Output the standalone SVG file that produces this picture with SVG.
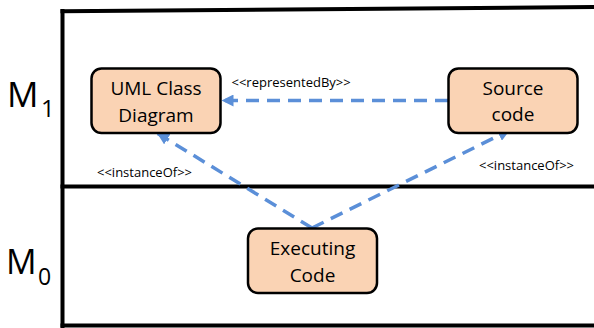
<svg xmlns="http://www.w3.org/2000/svg" width="594" height="328" viewBox="0 0 594 328">
  <style>
    .frame { stroke: #000; stroke-width: 4; fill: none; stroke-linecap: square; }
    .node rect { fill: #FAD3B4; stroke: #000; stroke-width: 2.5; }
    .node text { font-family: "Open Sans", "Noto Sans", sans-serif; font-size: 19px; fill: #000; text-anchor: middle; }
    .link { stroke: #5B8FD8; stroke-width: 3.5; fill: none; stroke-dasharray: 13 8; }
    .label { font-family: "Open Sans", "Noto Sans", sans-serif; font-size: 13px; fill: #000; }
    .level { font-family: "Open Sans", "Noto Sans", sans-serif; fill: #000; }
  </style>
  <defs>
    <marker id="head" viewBox="0 0 12 12" markerWidth="12" markerHeight="12" refX="12" refY="6" orient="auto" markerUnits="userSpaceOnUse">
      <path d="M0,0 L12,6 L0,12 z" fill="#5B8FD8"/>
    </marker>
  </defs>

  <rect width="594" height="328" fill="#fff"/>

  <!-- level frame -->
  <g id="frame">
    <line class="frame" x1="62.5" y1="11.3" x2="596" y2="7"/>
    <line class="frame" x1="62.5" y1="11" x2="62.5" y2="326"/>
    <line class="frame" x1="62.5" y1="186.5" x2="596" y2="186.5"/>
    <line class="frame" x1="62.5" y1="325.5" x2="596" y2="325.5"/>
  </g>

  <!-- level names -->
  <g id="level-m1">
    <text class="level" x="7" y="107" font-size="35">M</text>
    <text class="level" x="41" y="117" font-size="24">1</text>
  </g>
  <g id="level-m0">
    <text class="level" x="6" y="274" font-size="34">M</text>
    <text class="level" x="38" y="285" font-size="23">0</text>
  </g>

  <!-- connectors -->
  <g id="connectors">
    <line class="link" x1="448" y1="100.5" x2="221.5" y2="100.5" marker-end="url(#head)"/>
    <line class="link" x1="312" y1="228" x2="157" y2="133" marker-end="url(#head)"/>
    <line class="link" x1="312" y1="228" x2="510" y2="130" marker-end="url(#head)"/>
    <text class="label" x="231.5" y="87">&lt;&lt;representedBy&gt;&gt;</text>
    <text class="label" x="97" y="176.5">&lt;&lt;instanceOf&gt;&gt;</text>
    <text class="label" x="479" y="169.5">&lt;&lt;instanceOf&gt;&gt;</text>
  </g>

  <!-- nodes -->
  <g id="uml-class-diagram" class="node">
    <rect x="91.5" y="68.5" width="129" height="64.5" rx="10"/>
    <text x="156" y="95">UML Class</text>
    <text x="156" y="122">Diagram</text>
  </g>
  <g id="source-code" class="node">
    <rect x="448.5" y="68.5" width="129" height="64.5" rx="10"/>
    <text x="513" y="95">Source</text>
    <text x="513" y="121">code</text>
  </g>
  <g id="executing-code" class="node">
    <rect x="248" y="228.5" width="129" height="64.5" rx="10"/>
    <text x="312.5" y="255">Executing</text>
    <text x="312.5" y="282">Code</text>
  </g>
</svg>
